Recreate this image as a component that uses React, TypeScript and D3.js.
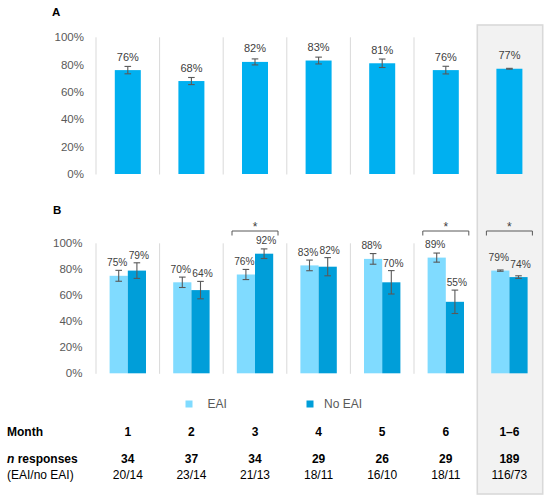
import React from "react";
import * as d3 from "d3";

const months = ["1", "2", "3", "4", "5", "6", "1–6"];
const totalRate = [76, 68, 82, 83, 81, 76, 77];
const totalErr = [2.7, 2.6, 2.2, 2.5, 3.1, 2.8, 0.3];
const eaiRate = [75, 70, 76, 83, 88, 89, 79];
const eaiErr = [4.2, 4.0, 3.9, 4.1, 4.1, 3.5, 0.5];
const noEaiRate = [79, 64, 92, 82, 70, 55, 74];
const noEaiErr = [6.0, 6.7, 3.7, 7.0, 9.0, 9.0, 1.0];
const significant = [false, false, true, false, false, true, true];
const nResponses = ["34", "37", "34", "29", "26", "29", "189"];
const nSplit = ["20/14", "23/14", "21/13", "18/11", "16/10", "18/11", "116/73"];
const yTicks = [0, 20, 40, 60, 80, 100];
const groups = ["EAI", "No EAI"];

const W = 550;
const H = 501;
const FONT = "'Liberation Sans', Arial, sans-serif";
const COL_A = "#00B0F0";
const COL_EAI = "#80DBFF";
const COL_NO = "#009ED9";
const GRID = "#D9D9D9";
const ERR = "#595959";
const TXT = "#595959";

const x = d3.scaleBand<string>().domain(months).range([96, 541.2]).padding(0);
const sub = d3.scaleBand<string>().domain(groups).range([-18.2, 18.2]).padding(0);
const yA = d3.scaleLinear().domain([0, 100]).range([174, 37.3]);
const yB = d3.scaleLinear().domain([0, 100]).range([373.3, 243.3]);

function ErrBar({ cx, y, lo, hi }: { cx: number; y: d3.ScaleLinear<number, number>; lo: number; hi: number }) {
  const cap = 3.3;
  return (
    <g stroke={ERR} strokeWidth={1.1}>
      <line x1={cx} x2={cx} y1={y(lo)} y2={y(hi)} />
      <line x1={cx - cap} x2={cx + cap} y1={y(lo)} y2={y(lo)} />
      <line x1={cx - cap} x2={cx + cap} y1={y(hi)} y2={y(hi)} />
    </g>
  );
}

function labelY(y: d3.ScaleLinear<number, number>, v: number, e: number) {
  return Math.min(y(v) - 9.5, y(v + e) - 4);
}

export default function App() {
  const bw = x.bandwidth();
  const last = months[months.length - 1];
  return (
    <svg
      width={W}
      height={H}
      viewBox={`0 0 ${W} ${H}`}
      style={{ position: "absolute", left: 0, top: 0, background: "#fff", fontFamily: FONT }}
    >
      <rect width={W} height={H} fill="#fff" />
      {/* highlighted 1–6 box */}
      <rect
        x={(x(last) as number) - 0.3}
        y={25}
        width={bw + 1.8}
        height={469}
        fill="#F2F2F2"
        stroke={GRID}
        strokeWidth={1.6}
      />

      {/* Panel labels */}
      <text x={52} y={16} fontSize={11.5} fontWeight="bold" fill="#000">A</text>
      <text x={53} y={214} fontSize={11.5} fontWeight="bold" fill="#000">B</text>

      {/* separators */}
      {months.slice(0, 6).map((m) => (
        <g key={"sep" + m} stroke={GRID} strokeWidth={1}>
          <line x1={x(m)} x2={x(m)} y1={yA(100)} y2={yA(0) + 0.5} />
          <line x1={x(m)} x2={x(m)} y1={yB(100)} y2={yB(0) + 0.5} />
        </g>
      ))}

      {/* y tick labels */}
      {yTicks.map((t) => (
        <g key={"t" + t} fontSize={11.5} fill={TXT} textAnchor="end">
          <text x={84} y={yA(t)} dy="0.36em">{t}%</text>
          <text x={82.5} y={yB(t)} dy="0.36em">{t}%</text>
        </g>
      ))}

      {/* Panel A bars */}
      {months.map((m, i) => {
        const cx = (x(m) as number) + bw / 2;
        const v = totalRate[i];
        const e = totalErr[i];
        return (
          <g key={"a" + m}>
            <rect x={cx - 13} y={yA(v)} width={26} height={yA(0) - yA(v)} fill={COL_A} />
            <ErrBar cx={cx} y={yA} lo={v - e} hi={v + e} />
            <text x={cx} y={labelY(yA, v, e)} fontSize={11} fill="#404040" textAnchor="middle">
              {v}%
            </text>
          </g>
        );
      })}

      {/* Panel B bars */}
      {months.map((m, i) => {
        const c = (x(m) as number) + bw / 2;
        const series = [
          { g: groups[0], v: eaiRate[i], e: eaiErr[i], col: COL_EAI, dx: -1.5 },
          { g: groups[1], v: noEaiRate[i], e: noEaiErr[i], col: COL_NO, dx: 2 },
        ];
        return (
          <g key={"b" + m}>
            {series.map((s) => {
              const x0 = c + (sub(s.g) as number);
              const cx = x0 + sub.bandwidth() / 2;
              return (
                <g key={s.g}>
                  <rect x={x0} y={yB(s.v)} width={sub.bandwidth()} height={yB(0) - yB(s.v)} fill={s.col} />
                  <ErrBar cx={cx} y={yB} lo={s.v - s.e} hi={s.v + s.e} />
                  <text
                    x={cx + s.dx}
                    y={labelY(yB, s.v, s.e)}
                    fontSize={10.2}
                    fill="#404040"
                    textAnchor="middle"
                  >
                    {s.v}%
                  </text>
                </g>
              );
            })}
            {significant[i] && (
              <g>
                <path
                  d={`M${c - 23},235.5 V231 H${c + 23} V235.5`}
                  fill="none"
                  stroke={ERR}
                  strokeWidth={1}
                />
                <text x={c} y={230.5} fontSize={12} fill="#404040" textAnchor="middle">*</text>
              </g>
            )}
          </g>
        );
      })}

      {/* Legend */}
      <g fontSize={12} fill={TXT}>
        <rect x={185.5} y={400.5} width={7} height={7} fill={COL_EAI} />
        <text x={207.5} y={408}>EAI</text>
        <rect x={306.5} y={400.5} width={7} height={7} fill={COL_NO} />
        <text x={324} y={408}>No EAI</text>
      </g>

      {/* Table */}
      <g fontSize={12} fill="#000">
        <text x={7} y={436} fontWeight="bold">Month</text>
        <text x={7} y={462.5} fontWeight="bold">
          <tspan fontStyle="italic">n</tspan> responses
        </text>
        <text x={7} y={479}>(EAI/no EAI)</text>
        {months.map((m, i) => {
          const cx = (x(m) as number) + bw / 2;
          return (
            <g key={"tb" + m} textAnchor="middle">
              <text x={cx} y={436} fontWeight="bold">{m}</text>
              <text x={cx} y={462.5} fontWeight="bold">{nResponses[i]}</text>
              <text x={cx} y={479}>{nSplit[i]}</text>
            </g>
          );
        })}
      </g>
    </svg>
  );
}
